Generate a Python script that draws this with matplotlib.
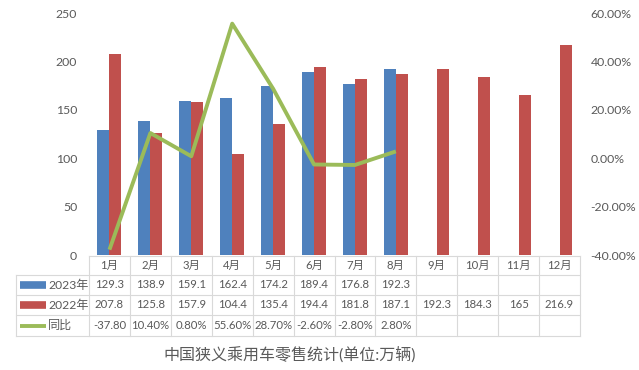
import matplotlib
matplotlib.use("Agg")
import matplotlib.pyplot as plt
import numpy as np

plt.rcParams['font.family'] = ['Lato', 'Noto Sans CJK SC', 'DejaVu Sans']

months = ['1月', '2月', '3月', '4月', '5月', '6月', '7月', '8月', '9月', '10月', '11月', '12月']
sales_2023 = [129.3, 138.9, 159.1, 162.4, 174.2, 189.4, 176.8, 192.3]
sales_2022 = [207.8, 125.8, 157.9, 104.4, 135.4, 194.4, 181.8, 187.1, 192.3, 184.3, 165, 216.9]
yoy = [-37.80, 10.40, 0.80, 55.60, 28.70, -2.60, -2.80, 2.80]
yoy_labels = ['-37.80', '10.40%', '0.80%', '55.60%', '28.70%', '-2.60%', '-2.80%', '2.80%']
labels_2023 = ['129.3', '138.9', '159.1', '162.4', '174.2', '189.4', '176.8', '192.3']
labels_2022 = ['207.8', '125.8', '157.9', '104.4', '135.4', '194.4', '181.8', '187.1', '192.3', '184.3', '165', '216.9']
series_names = ['2023年', '2022年', '同比']
title = '中国狭义乘用车零售统计(单位:万辆)'

BLUE = '#4F81BD'
RED = '#C0504D'
GREEN = '#9BBB59'
GRID = '#D9D9D9'
TXT = '#595959'

W, H = 639, 370
fig = plt.figure(figsize=(W / 100, H / 100), dpi=100)
L, R, T, B = 89, 580, 13, 255
ax = fig.add_axes([L / W, 1 - B / H, (R - L) / W, (B - T) / H])
ax2 = ax.twinx()

x = np.arange(len(months))
bw = 0.293
ax.bar(x[:len(sales_2023)] - bw / 2, sales_2023, width=bw, color=BLUE, zorder=2)
ax.bar(x + bw / 2, sales_2022, width=bw, color=RED, zorder=2)
ax.set_xlim(-0.5, len(months) - 0.5)
ax.set_ylim(0, 250)
ax.set_yticks(np.arange(0, 251, 50))
ax.set_xticks([])

ax2.plot(x[:len(yoy)], yoy, color=GREEN, lw=2.8, zorder=3, solid_capstyle='butt')
ax2.set_ylim(-40, 60)
ax2.set_yticks(np.arange(-40, 61, 20))
ax2.set_yticklabels([f'{v:.2f}%' for v in np.arange(-40, 61, 20)])

for a in (ax, ax2):
    for s in a.spines.values():
        s.set_visible(False)
    a.tick_params(axis='y', length=0, labelsize=8.8, labelcolor=TXT)
ax.tick_params(axis='y', pad=8.5)
ax2.tick_params(axis='y', pad=7.5)

# data table
def py2ax(py):
    return (B - py) / (B - T)

rows_y = [256, 275, 295, 315, 336]
tr = ax.get_xaxis_transform()
n = len(months)
unit = (R - L) / n
def px2dx(px):
    return -0.5 + (px - L) / unit
x_left_tbl = px2dx(16)
lw = 0.8
ax.plot([-0.5, n - 0.5], [py2ax(rows_y[0])] * 2, transform=tr, color=GRID, lw=lw, clip_on=False)
for py in rows_y[1:]:
    ax.plot([x_left_tbl, n - 0.5], [py2ax(py)] * 2, transform=tr, color=GRID, lw=lw, clip_on=False)
for xv in np.arange(-0.5, n, 1.0):
    ax.plot([xv, xv], [py2ax(rows_y[0]), py2ax(rows_y[-1])], transform=tr, color=GRID, lw=lw, clip_on=False)
ax.plot([x_left_tbl, x_left_tbl], [py2ax(rows_y[1]), py2ax(rows_y[-1])], transform=tr, color=GRID, lw=lw, clip_on=False)

fs = 8.2
def cy(i):
    return py2ax((rows_y[i] + rows_y[i + 1]) / 2)

for i, m in enumerate(months):
    ax.text(x[i], cy(0), m, transform=tr, ha='center', va='center', fontsize=fs, color=TXT)
for i, v in enumerate(labels_2023):
    ax.text(x[i], cy(1), v, transform=tr, ha='center', va='center', fontsize=fs, color=TXT)
for i, v in enumerate(labels_2022):
    ax.text(x[i], cy(2), v, transform=tr, ha='center', va='center', fontsize=fs, color=TXT)
for i, v in enumerate(yoy_labels):
    ax.text(x[i], cy(3), v, transform=tr, ha='center', va='center', fontsize=fs, color=TXT)

key_x0, key_x1, txt_x = px2dx(20), px2dx(46), px2dx(48)
styles = [(BLUE, 5.5), (RED, 5.5), (GREEN, 2.8)]
for i, (name, (c, w)) in enumerate(zip(series_names, styles)):
    ax.plot([key_x0, key_x1], [cy(i + 1)] * 2, transform=tr, color=c, lw=w, clip_on=False, solid_capstyle='butt')
    ax.text(txt_x, cy(i + 1), name, transform=tr, ha='left', va='center', fontsize=fs + 0.5, color=TXT)

fig.text(290 / W, 1 - 355 / H, title, ha='center', va='center', fontsize=11.5, color=TXT)

fig.savefig('out.png', dpi=100, facecolor='white')
